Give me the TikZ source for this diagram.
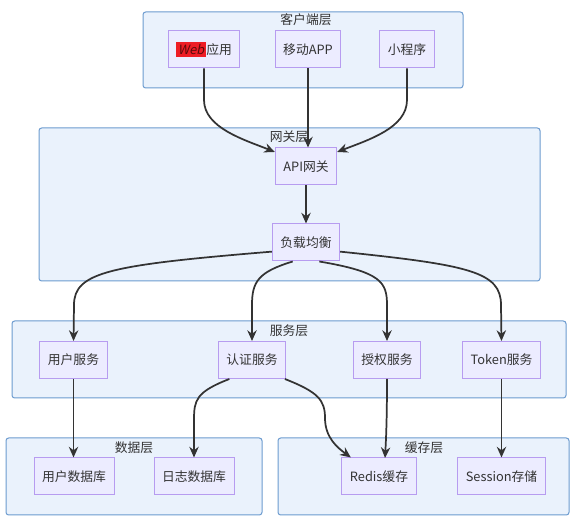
\documentclass[tikz,border=0pt]{standalone}
\usepackage{fontspec}
\setmainfont{Noto Sans CJK SC}[ItalicFont=Noto Sans CJK SC, ItalicFeatures={FakeSlant=0.2}]
\usepackage{tikz}
\usetikzlibrary{positioning,arrows.meta,fit,calc}

\definecolor{layerfill}{HTML}{EAF2FC}
\definecolor{layerline}{HTML}{6C9BCF}
\definecolor{boxfill}{HTML}{ECECFF}
\definecolor{boxline}{HTML}{B79CF0}
\definecolor{ink}{HTML}{333333}
\definecolor{webred}{HTML}{EE1C25}
\definecolor{webink}{HTML}{5A0A0A}

\begin{document}
\begin{tikzpicture}[
  x=0.75pt, y=-0.75pt,
  every node/.style={font=\fontsize{9.6pt}{11pt}\selectfont, text=ink},
  layer/.style={draw=layerline, fill=layerfill, rounded corners=2pt, line width=0.75pt, inner sep=0pt},
  title/.style={inner sep=0pt},
  box/.style={draw=boxline, fill=boxfill, line width=0.75pt, minimum height=27.75pt, inner xsep=6pt, align=center},
  flow/.style={-{Stealth[length=8pt,width=7pt]}, draw=ink, line width=1.3pt}
]
\useasboundingbox (0,0) rectangle (579,523);
% Layers
\node[layer, fit={(143,12) (463,88)}] (client) {};
\node[layer, fit={(39,128) (540,281)}] (gateway) {};
\node[layer, fit={(12,321) (566,398)}] (service) {};
\node[layer, fit={(6,438) (262,515)}] (data) {};
\node[layer, fit={(278,438) (569,515)}] (cache) {};
\node[title] (clientT) at (306,20) {客户端层};
\node[title] (gatewayT) at (289,137) {网关层};
\node[title] (serviceT) at (289,331) {服务层};
\node[title] (dataT) at (134,448) {数据层};
\node[title] (cacheT) at (424,448) {缓存层};
% Clients
\node[box] (web) at (204,49.5) {{\setlength{\fboxsep}{1.5pt}\colorbox{webred}{\textcolor{webink}{\textit{Web}}}}应用};
\node[box] (app) at (308,49.5) {移动APP};
\node[box] (mini) at (407,49.5) {小程序};
% Gateway
\node[box] (api) at (306,166.5) {API网关};
\node[box] (lb) at (306,242.5) {负载均衡};
\draw[flow] (web.south) -- (204,100) .. controls (204,128) and (245,140) .. (api.155);
\draw[flow] (app.south) -- (app.south |- api.north);
\draw[flow] (mini.south) -- (407,100) .. controls (407,128) and (368,140) .. (api.25);
\draw[flow] (api) -- (lb);
% Services
\node[box] (user) at (73.5,360) {用户服务};
\node[box] (auth) at (252,360) {认证服务};
\node[box] (authz) at (387,360) {授权服务};
\node[box] (token) at (501.5,360) {Token服务};
\draw[flow] (lb.195) .. controls (110,265) and (74,272) .. (74,305) -- (user.north);
\draw[flow] (lb.235) .. controls (258,272) and (252,282) .. (252,305) -- (auth.north);
\draw[flow] (lb.305) .. controls (381,272) and (387,282) .. (387,305) -- (authz.north);
\draw[flow] (lb.345) .. controls (470,265) and (501,272) .. (501,305) -- (token.north);
% Storage
\node[box] (userdb) at (74,476.5) {用户数据库};
\node[box] (logdb) at (194,476.5) {日志数据库};
\node[box] (redis) at (379,476.5) {Redis缓存};
\node[box] (session) at (501.5,476.5) {Session存储};
\draw[flow] (user.south) -- (user.south |- userdb.north);
\draw[flow] (auth.220) .. controls (196,392) and (194,400) .. (194,420) -- (logdb.north);
\draw[flow] (auth.330) .. controls (318,392) and (325,400) .. (325,418) .. controls (325,438) and (338,448) .. (redis.146);
\draw[flow] (authz.south) .. controls (387,420) and (386,440) .. (385,458);
\draw[flow] (token.south) -- (token.south |- session.north);
\end{tikzpicture}
\end{document}
